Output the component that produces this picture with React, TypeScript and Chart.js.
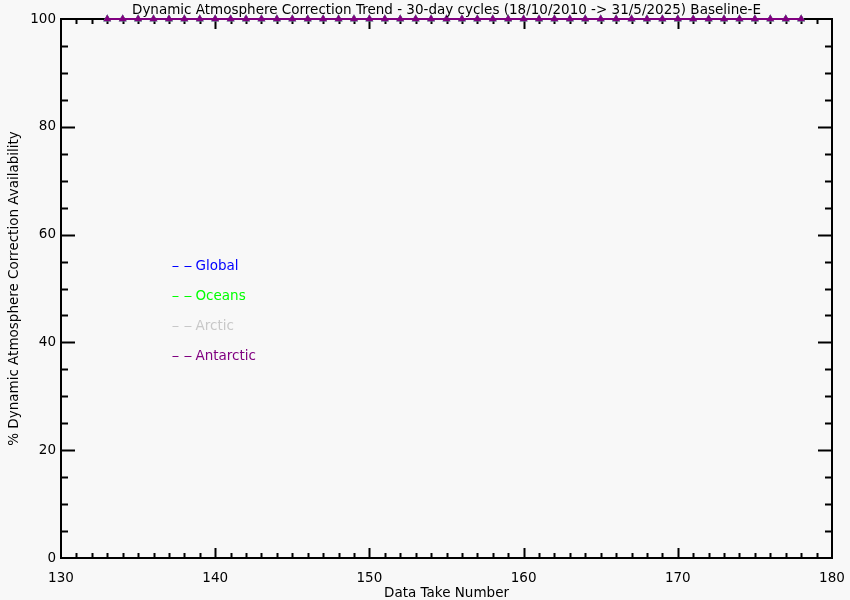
import React, { useEffect, useRef } from "react";
import { Chart, registerables } from "chart.js";
Chart.register(...registerables);

const TITLE = "Dynamic Atmosphere Correction Trend - 30-day cycles (18/10/2010 -> 31/5/2025) Baseline-E";
const X_TITLE = "Data Take Number";
const Y_TITLE = "% Dynamic Atmosphere Correction Availability";

const cycles = [133, 134, 135, 136, 137, 138, 139, 140, 141, 142, 143, 144, 145, 146, 147, 148, 149, 150, 151, 152, 153, 154, 155, 156, 157, 158, 159, 160, 161, 162, 163, 164, 165, 166, 167, 168, 169, 170, 171, 172, 173, 174, 175, 176, 177, 178];
const globalVals = [100, 100, 100, 100, 100, 100, 100, 100, 100, 100, 100, 100, 100, 100, 100, 100, 100, 100, 100, 100, 100, 100, 100, 100, 100, 100, 100, 100, 100, 100, 100, 100, 100, 100, 100, 100, 100, 100, 100, 100, 100, 100, 100, 100, 100, 100];
const oceansVals = [100, 100, 100, 100, 100, 100, 100, 100, 100, 100, 100, 100, 100, 100, 100, 100, 100, 100, 100, 100, 100, 100, 100, 100, 100, 100, 100, 100, 100, 100, 100, 100, 100, 100, 100, 100, 100, 100, 100, 100, 100, 100, 100, 100, 100, 100];
const arcticVals = [100, 100, 100, 100, 100, 100, 100, 100, 100, 100, 100, 100, 100, 100, 100, 100, 100, 100, 100, 100, 100, 100, 100, 100, 100, 100, 100, 100, 100, 100, 100, 100, 100, 100, 100, 100, 100, 100, 100, 100, 100, 100, 100, 100, 100, 100];
const antarcticVals = [100, 100, 100, 100, 100, 100, 100, 100, 100, 100, 100, 100, 100, 100, 100, 100, 100, 100, 100, 100, 100, 100, 100, 100, 100, 100, 100, 100, 100, 100, 100, 100, 100, 100, 100, 100, 100, 100, 100, 100, 100, 100, 100, 100, 100, 100];

const seriesNames = ["Global", "Oceans", "Arctic", "Antarctic"];
const seriesColors = ["#0000ff", "#00ff00", "#c8c8c8", "#800080"];
const seriesValues = [globalVals, oceansVals, arcticVals, antarcticVals];

const X_MIN = 130, X_MAX = 180, X_MAJOR = 10, X_MINOR = 1;
const Y_MIN = 0, Y_MAX = 100, Y_MAJOR = 20, Y_MINOR = 5;
const FONT = "DejaVu Sans";
const FS = 13.5;
const BG = "#f8f8f8";

const framePlugin = {
  id: "frame",
  beforeDraw(chart: any) {
    const { ctx, width, height } = chart;
    ctx.save();
    ctx.fillStyle = BG;
    ctx.fillRect(0, 0, width, height);
    ctx.restore();
  },
  beforeDatasetsDraw(chart: any) {
    const { ctx, chartArea: a, scales } = chart;
    const xs = scales.x, ys = scales.y;
    ctx.save();
    ctx.strokeStyle = "#000";
    ctx.lineWidth = 2;
    ctx.strokeRect(a.left, a.top, a.right - a.left, a.bottom - a.top);
    ctx.beginPath();
    for (let v = X_MIN + X_MINOR; v < X_MAX; v += X_MINOR) {
      const px = Math.round(xs.getPixelForValue(v)) + 0.5;
      const len = v % X_MAJOR === 0 ? 10 : 5;
      ctx.moveTo(px, a.bottom);
      ctx.lineTo(px, a.bottom - len);
      ctx.moveTo(px, a.top);
      ctx.lineTo(px, a.top + len);
    }
    for (let v = Y_MIN + Y_MINOR; v < Y_MAX; v += Y_MINOR) {
      const py = Math.round(ys.getPixelForValue(v)) + 0.5;
      const len = v % Y_MAJOR === 0 ? 14 : 7;
      ctx.moveTo(a.left, py);
      ctx.lineTo(a.left + len, py);
      ctx.moveTo(a.right, py);
      ctx.lineTo(a.right - len, py);
    }
    ctx.lineWidth = 2;
    ctx.stroke();
    ctx.restore();
  },
  afterDraw(chart: any) {
    const { ctx, chartArea: a, scales } = chart;
    ctx.save();
    ctx.font = `${FS}px "${FONT}"`;
    ctx.fillStyle = "#000";
    ctx.textAlign = "center";
    ctx.textBaseline = "middle";
    ctx.fillText(TITLE, (a.left + a.right) / 2, a.top - 9);
    const lx = scales.x.getPixelForValue(137.1);
    ctx.textAlign = "left";
    const legendY = [54.2, 48.6, 43.1, 37.5];
    seriesNames.forEach((name, i) => {
      const py = Math.round(scales.y.getPixelForValue(legendY[i]));
      ctx.strokeStyle = seriesColors[i];
      ctx.lineWidth = 1;
      ctx.beginPath();
      ctx.moveTo(lx + 2, py + 0.5);
      ctx.lineTo(lx + 8, py + 0.5);
      ctx.moveTo(lx + 14, py + 0.5);
      ctx.lineTo(lx + 21, py + 0.5);
      ctx.stroke();
      ctx.fillStyle = seriesColors[i];
      ctx.fillText(name, lx + 25, py);
    });
    ctx.restore();
  },
};

export default function App() {
  const ref = useRef<HTMLCanvasElement>(null);
  useEffect(() => {
    document.body.style.margin = "0";
    const datasets = seriesNames.map((name, i) => ({
      label: name,
      data: cycles.map((c, j) => ({ x: c, y: seriesValues[i][j] })),
      borderColor: seriesColors[i],
      backgroundColor: seriesColors[i],
      borderWidth: 2,
      pointStyle: "triangle",
      pointRadius: 4.5,
      pointBorderWidth: 0,
      order: seriesNames.length - i,
      clip: false as any,
    }));
    const chart = new Chart(ref.current!, {
      type: "line",
      data: { datasets },
      options: {
        animation: false,
        responsive: false,
        devicePixelRatio: 1,
        layout: { padding: { top: 19, right: 18, left: 0, bottom: 0 } },
        plugins: { legend: { display: false }, tooltip: { enabled: false } },
        scales: {
          x: {
            type: "linear",
            min: X_MIN,
            max: X_MAX,
            grid: { display: false, drawTicks: false },
            border: { display: false },
            ticks: { stepSize: X_MAJOR, color: "#000", font: { family: FONT, size: FS }, padding: 12, maxRotation: 0 },
            title: { display: true, text: X_TITLE, color: "#000", font: { family: FONT, size: FS, lineHeight: 1 }, padding: { top: 0, bottom: 0 } },
            afterFit: (s: any) => { s.height = 42; s.paddingLeft = 0; s.paddingRight = 0; },
          },
          y: {
            min: Y_MIN,
            max: Y_MAX,
            grid: { display: false, drawTicks: false },
            border: { display: false },
            ticks: { stepSize: Y_MAJOR, color: "#000", font: { family: FONT, size: FS }, padding: 5 },
            title: { display: true, text: Y_TITLE, color: "#000", font: { family: FONT, size: FS }, padding: { top: 6, bottom: 0 } },
            afterFit: (s: any) => { s.width = 61; s.paddingTop = 0; s.paddingBottom = 0; },
          },
        },
      },
      plugins: [framePlugin],
    });
    return () => chart.destroy();
  }, []);
  return <canvas ref={ref} width={850} height={600} style={{ display: "block" }} />;
}
